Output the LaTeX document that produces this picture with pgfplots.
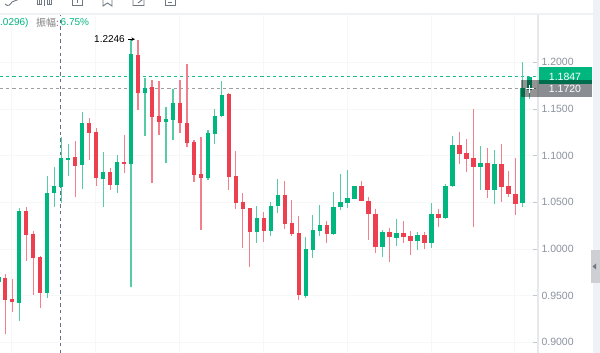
\documentclass[border=0pt]{standalone}
\usepackage{pgfplots}
\pgfplotsset{compat=1.18}
\usepackage{fontspec}
\setmainfont{Liberation Sans}
\newfontfamily\cjk{Noto Sans CJK SC}
\definecolor{upc}{HTML}{00B67F}
\definecolor{dnc}{HTML}{EC3F4F}
\definecolor{upw}{HTML}{55CBA6}
\definecolor{dnw}{HTML}{F2808C}
\definecolor{gridc}{HTML}{F6F8F8}
\definecolor{axisc}{HTML}{E6E8EB}
\definecolor{labc}{HTML}{8A93A0}
\definecolor{greyl}{HTML}{8A8D92}
\definecolor{panec}{HTML}{EEF1F5}
\definecolor{iconc}{HTML}{6F7780}
\begin{document}
\begin{tikzpicture}[x=1pt,y=1pt]
\path[use as bounding box] (0,0) rectangle (600,353);
\fill[white] (0,0) rectangle (600,353);
\begin{axis}[
  at={(0pt,0pt)},anchor=south west,scale only axis,
  width=538pt,height=353pt,
  xmin=-0.7585,xmax=76.24,ymin=0.88853,ymax=1.26675,
  axis line style={draw=none},
  axis y line*=right,
  ytick={0.9,0.95,1.0,1.05,1.1,1.15,1.2},
  yticklabels={0.9000,0.9500,1.0000,1.0500,1.1000,1.1500,1.2000},
  yticklabel style={font=\fontsize{10.5}{12}\selectfont,text=labc,/pgf/number format/assume math mode=true},
  y tick style={draw=labc!50,line width=0.7pt},
  major tick length=5pt,
  xtick={0.92,12.92,24.92,36.92,48.92,60.92,72.92},
  xticklabels={},
  x tick style={draw=none},
  grid=major,
  grid style={draw=gridc,line width=0.7pt},
  unbounded coords=jump,
  clip=true,
]
% crosshair
\addplot[draw=black!15!blue!15!gray,line width=0.9pt,dash pattern=on 3.3pt off 3.3pt] coordinates {(7.9,0.88853)(7.9,1.2524)};
% price lines
\addplot[draw=upc!90,line width=1pt,dash pattern=on 3.2pt off 3pt] coordinates {(-0.7585,1.1847)(76.24,1.1847)};
\addplot[draw=gray!75,line width=1pt,dash pattern=on 3.2pt off 3pt] coordinates {(-0.7585,1.172)(76.24,1.172)};
% green wicks
\addplot[draw=upw,line width=1.15pt] coordinates {
(-1,.9625)(-1,.9710)(-1,nan)
(2,.9228)(2,1.0442)(2,nan)
(6,.9478)(6,1.0782)(6,nan)
(7,1.0453)(7,1.0881)(7,nan)
(8,1.0489)(8,1.1196)(8,nan)
(9,1.0782)(9,1.1125)(9,nan)
(11,1.0643)(11,1.1471)(11,nan)
(14,1.0453)(14,1.1036)(14,nan)
(16,1.0603)(16,1.1007)(16,nan)
(18,.9589)(18,1.2246)(18,nan)
(20,1.1214)(20,1.1829)(20,nan)
(23,1.0925)(23,1.1524)(23,nan)
(24,1.1168)(24,1.1714)(24,nan)
(29,1.0739)(29,1.1275)(29,nan)
(30,1.1121)(30,1.1500)(30,nan)
(31,1.1411)(31,1.1800)(31,nan)
(36,1.0061)(36,1.0460)(36,nan)
(38,1.0139)(38,1.0506)(38,nan)
(39,1.0389)(39,1.0746)(39,nan)
(43,.9471)(43,1.0125)(43,nan)
(44,.9906)(44,1.0361)(44,nan)
(45,1.0139)(45,1.0471)(45,nan)
(47,1.0147)(47,1.0610)(47,nan)
(48,1.0417)(48,1.0800)(48,nan)
(49,1.0442)(49,1.0843)(49,nan)
(50,1.0535)(50,1.0678)(50,nan)
(54,.9917)(54,1.0203)(54,nan)
(56,1.0032)(56,1.0318)(56,nan)
(59,.9986)(59,1.0179)(59,nan)
(61,1.0014)(61,1.0492)(61,nan)
(63,1.0321)(63,1.0696)(63,nan)
(64,1.0669)(64,1.1210)(64,nan)
(68,1.0629)(68,1.1106)(68,nan)
(70,1.0479)(70,1.1057)(70,nan)
(74,1.0453)(74,1.2000)(74,nan)
(75,1.1604)(75,1.1853)(75,nan)
};
% red wicks
\addplot[draw=dnw,line width=1.15pt] coordinates {
(0,.9086)(0,.9729)(0,nan)
(1,.9322)(1,.9675)(1,nan)
(3,.9871)(3,1.0447)(3,nan)
(4,.9507)(4,1.0196)(4,nan)
(5,.9368)(5,.9925)(5,nan)
(10,1.0554)(10,1.1157)(10,nan)
(12,1.0953)(12,1.1403)(12,nan)
(13,1.0675)(13,1.1296)(13,nan)
(15,1.0635)(15,1.0864)(15,nan)
(17,1.0811)(17,1.1221)(17,nan)
(19,1.1489)(19,1.2239)(19,nan)
(21,1.0704)(21,1.1810)(21,nan)
(22,1.1224)(22,1.1800)(22,nan)
(25,1.1243)(25,1.1810)(25,nan)
(26,1.1089)(26,1.1979)(26,nan)
(27,1.0718)(27,1.1168)(27,nan)
(28,1.0207)(28,1.1203)(28,nan)
(32,1.0635)(32,1.1668)(32,nan)
(33,1.0432)(33,1.1050)(33,nan)
(34,1.0007)(34,1.0596)(34,nan)
(35,.9810)(35,1.0436)(35,nan)
(37,1.0078)(37,1.0393)(37,nan)
(40,1.0211)(40,1.0728)(40,nan)
(41,1.0142)(41,1.0525)(41,nan)
(42,.9456)(42,1.0356)(42,nan)
(46,1.0061)(46,1.0300)(46,nan)
(51,1.0509)(51,1.0728)(51,nan)
(52,1.0096)(52,1.0557)(52,nan)
(53,.9957)(53,1.0428)(53,nan)
(55,.9864)(55,1.0222)(55,nan)
(57,1.0067)(57,1.0303)(57,nan)
(58,.9939)(58,1.0192)(58,nan)
(60,1.0000)(60,1.0179)(60,nan)
(62,1.0239)(62,1.0431)(62,nan)
(65,1.0914)(65,1.1250)(65,nan)
(66,1.0825)(66,1.1181)(66,nan)
(67,1.0232)(67,1.1497)(67,nan)
(69,1.0546)(69,1.1082)(69,nan)
(71,1.0506)(71,1.1125)(71,nan)
(72,1.0554)(72,1.0835)(72,nan)
(73,1.0364)(73,1.0971)(73,nan)
};
% green bodies
\addplot[draw=upc,line width=4.4pt] coordinates {
(-1,.9646)(-1,.9700)(-1,nan)
(2,.9424)(2,1.0410)(2,nan)
(6,.9531)(6,1.0603)(6,nan)
(7,1.0600)(7,1.0671)(7,nan)
(8,1.0664)(8,1.0971)(8,nan)
(9,1.0953)(9,1.0978)(9,nan)
(11,1.0903)(11,1.1346)(11,nan)
(14,1.0753)(14,1.0828)(14,nan)
(16,1.0682)(16,1.0932)(16,nan)
(18,1.0910)(18,1.2086)(18,nan)
(20,1.1674)(20,1.1728)(20,nan)
(23,1.1364)(23,1.1393)(23,nan)
(24,1.1385)(24,1.1561)(24,nan)
(29,1.0764)(29,1.1243)(29,nan)
(30,1.1232)(30,1.1425)(30,nan)
(31,1.1422)(31,1.1650)(31,nan)
(36,1.0185)(36,1.0332)(36,nan)
(38,1.0193)(38,1.0460)(38,nan)
(39,1.0460)(39,1.0575)(39,nan)
(43,.9499)(43,.9996)(43,nan)
(44,.9989)(44,1.0200)(44,nan)
(45,1.0193)(45,1.0257)(45,nan)
(47,1.0164)(47,1.0453)(47,nan)
(48,1.0450)(48,1.0500)(48,nan)
(49,1.0496)(49,1.0546)(49,nan)
(50,1.0535)(50,1.0671)(50,nan)
(54,1.0018)(54,1.0180)(54,nan)
(56,1.0121)(56,1.0168)(56,nan)
(59,1.0082)(59,1.0147)(59,nan)
(61,1.0067)(61,1.0378)(61,nan)
(63,1.0335)(63,1.0678)(63,nan)
(64,1.0675)(64,1.1111)(64,nan)
(68,1.0878)(68,1.0921)(68,nan)
(70,1.0635)(70,1.0910)(70,nan)
(74,1.0489)(74,1.1720)(74,nan)
(75,1.1703)(75,1.1847)(75,nan)
};
% red bodies
\addplot[draw=dnc,line width=4.4pt] coordinates {
(0,.9453)(0,.9686)(0,nan)
(1,.9435)(1,.9461)(1,nan)
(3,1.0150)(3,1.0410)(3,nan)
(4,.9907)(4,1.0157)(4,nan)
(5,.9531)(5,.9911)(5,nan)
(10,1.0889)(10,1.0985)(10,nan)
(12,1.1246)(12,1.1346)(12,nan)
(13,1.0757)(13,1.1250)(13,nan)
(15,1.0682)(15,1.0828)(15,nan)
(17,1.0914)(17,1.0932)(17,nan)
(19,1.1674)(19,1.2075)(19,nan)
(21,1.1414)(21,1.1732)(21,nan)
(22,1.1364)(22,1.1422)(22,nan)
(25,1.1350)(25,1.1561)(25,nan)
(26,1.1139)(26,1.1350)(26,nan)
(27,1.0792)(27,1.1146)(27,nan)
(28,1.0764)(28,1.0800)(28,nan)
(32,1.0774)(32,1.1660)(32,nan)
(33,1.0496)(33,1.0782)(33,nan)
(34,1.0428)(34,1.0500)(34,nan)
(35,1.0185)(35,1.0436)(35,nan)
(37,1.0193)(37,1.0332)(37,nan)
(40,1.0271)(40,1.0575)(40,nan)
(41,1.0164)(41,1.0275)(41,nan)
(42,.9504)(42,1.0171)(42,nan)
(46,1.0157)(46,1.0257)(46,nan)
(51,1.0514)(51,1.0671)(51,nan)
(52,1.0375)(52,1.0511)(52,nan)
(53,1.0018)(53,1.0378)(53,nan)
(55,1.0123)(55,1.0180)(55,nan)
(57,1.0128)(57,1.0168)(57,nan)
(58,1.0085)(58,1.0136)(58,nan)
(60,1.0067)(60,1.0147)(60,nan)
(62,1.0335)(62,1.0378)(62,nan)
(65,1.1021)(65,1.1111)(65,nan)
(66,1.0964)(66,1.1025)(66,nan)
(67,1.0878)(67,1.0971)(67,nan)
(69,1.0635)(69,1.0921)(69,nan)
(71,1.0664)(71,1.0910)(71,nan)
(72,1.0589)(72,1.0671)(72,nan)
(73,1.0485)(73,1.0586)(73,nan)
};
\end{axis}
% chrome (pixel layout: y = 353 - py)
\fill[white] (0,338) rectangle (600,353);
\fill[panec] (0,338) rectangle (593,339.6);
\fill[panec] (593,0) rectangle (600,353);
\fill[white] (538.8,0) rectangle (592.9,0.01);
\draw[axisc,line width=1.2pt] (538,0) -- (538,338);
% side handle
\fill[black!14!panec] (591,70) -- (600,70) -- (600,103) -- (591,103) -- cycle;
\fill[iconc] (592.5,86.5) -- (596,83.5) -- (596,89.5) -- cycle;
% price labels
\fill[upc] (538.6,268.7) rectangle (591.5,285.7);
\fill[black,opacity=0.42] (521,255.7) rectangle (538.6,273);
\fill[greyl] (538.6,255.7) rectangle (591.5,273);
\fill[upc!60!black] (538.6,268.7) rectangle (591.5,273);
\node[white,anchor=center,font=\fontsize{10.5}{12}\selectfont] at (565,276.6) {1.1847};
\node[white,anchor=center,font=\fontsize{10.5}{12}\selectfont] at (565,264.4) {1.1720};
\draw[white,line width=1.1pt] (525.5,264.4) -- (533.5,264.4) (529.5,260.4) -- (529.5,268.4);
% header text
\node[anchor=west,inner sep=0,font=\fontsize{10}{12}\selectfont,text=upc] at (0,330.5) {.0296)};
\node[anchor=west,inner sep=0,font=\cjk\fontsize{10}{12}\selectfont,text=gray] at (36,330.5) {振幅:};
\node[anchor=west,inner sep=0,font=\fontsize{10}{12}\selectfont,text=upc] at (60.5,330.5) {6.75\%};
% high marker
\node[anchor=east,inner sep=0,font=\fontsize{10}{12}\selectfont] at (125,313.8) {1.2246};
\draw[black,line width=0.6pt,-stealth] (128,313.8) -- (135,313.8);
% toolbar icons (cut by the top edge)
\begin{scope}[iconc,line width=0.9pt]
\clip (0,345) rectangle (200,353);
\draw (5,349) .. controls (8,346) and (10,348) .. (12,351) .. controls (14,353) and (17,352) .. (20,354);
\draw (39,348) -- (39,354) (44,347) -- (44,354) (49,348) -- (49,354);
\draw (37.5,349) rectangle (41,354) (47.5,349) rectangle (51,354);
\draw (72,347.5) rectangle (82,356) (77,350) -- (77,354);
\draw (103,356) -- (103,347) -- (107.5,350) -- (112,347) -- (112,356);
\draw (133,347.5) rectangle (144,356) (138,350) -- (146,356);
\draw (165,347.5) rectangle (175,356) (168,351) -- (172,351);
\end{scope}
\end{tikzpicture}
\end{document}
